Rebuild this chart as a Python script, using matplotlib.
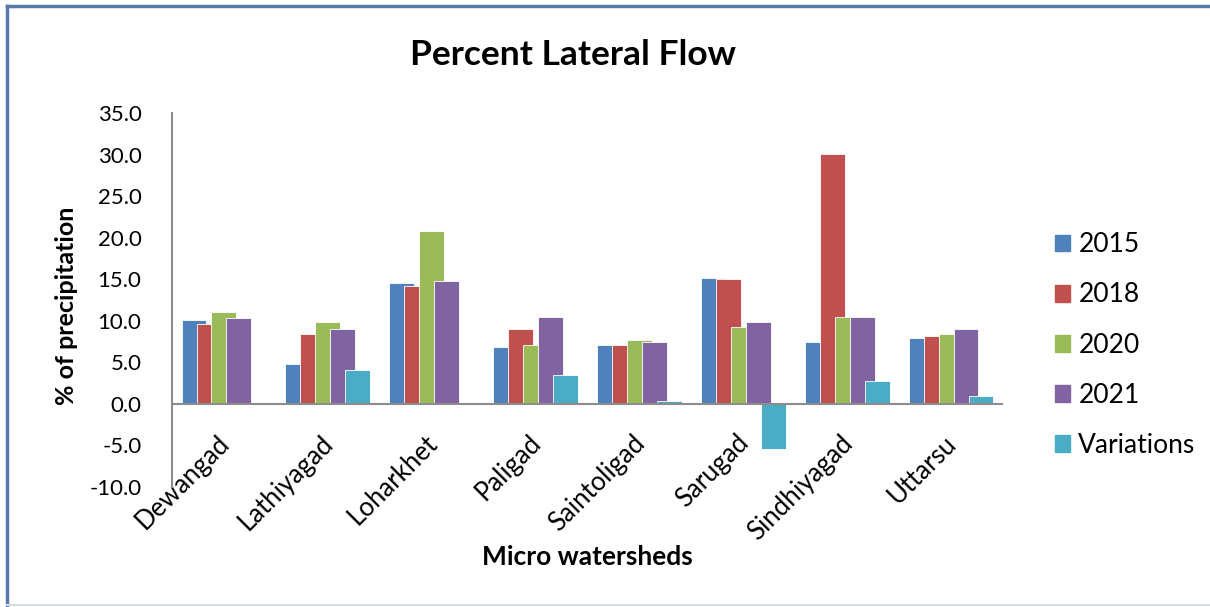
import numpy as np
import matplotlib
matplotlib.use('Agg')
import matplotlib.pyplot as plt
from matplotlib.lines import Line2D

# Data
watersheds = ['Dewangad', 'Lathiyagad', 'Loharkhet', 'Paligad',
              'Saintoligad', 'Sarugad', 'Sindhiyagad', 'Uttarsu']
y2015 = [10.1, 4.8, 14.6, 6.9, 7.1, 15.2, 7.5, 7.9]
y2018 = [9.6, 8.4, 14.2, 9.0, 7.1, 15.0, 30.1, 8.2]
y2020 = [11.0, 9.9, 20.8, 7.1, 7.7, 9.2, 10.5, 8.4]
y2021 = [10.3, 9.0, 14.8, 10.5, 7.5, 9.9, 10.5, 9.0]
variations = [np.nan, 4.1, np.nan, 3.45, 0.3, -5.4, 2.8, 0.9]

series_names = ['2015', '2018', '2020', '2021', 'Variations']
series_vals = [y2015, y2018, y2020, y2021, variations]
colors = ['#4F81BD', '#C0504D', '#9BBB59', '#8064A2', '#4BACC6']

font = 'Lato'
plt.rcParams['font.family'] = [font, 'DejaVu Sans']

fig = plt.figure(figsize=(12.1, 6.07), dpi=100)
ax = fig.add_axes([172/1210, 1-487/607, (1003-172)/1210, (487-113)/607])

x = np.arange(len(watersheds))
step = 0.144
width = 0.24
for k, (name, vals) in enumerate(zip(series_names, series_vals)):
    ax.bar(x - 0.288 + k*step, vals, width, color=colors[k],
           edgecolor='white', linewidth=0.6, label=name, zorder=2+k)

ax.set_xlim(-0.5, 7.5)
ax.set_ylim(-10, 35)
ax.set_yticks(np.arange(-10, 35.1, 5))
ax.set_yticklabels(['%.1f' % v for v in np.arange(-10, 35.1, 5)], fontsize=16)
ax.tick_params(axis='y', length=0, pad=22)
ax.set_xticks([])
ax.axhline(0, color='#8c8c8c', lw=1.5, zorder=10)
for s in ['top', 'right', 'bottom']:
    ax.spines[s].set_visible(False)
ax.spines['left'].set_color('#8c8c8c')
ax.spines['left'].set_linewidth(1.5)

# rotated category labels hanging below the zero line
for i, name in enumerate(watersheds):
    ax.annotate(name, xy=(i, 0), xycoords='data', xytext=(-5, -19),
                textcoords='offset points', rotation=45, fontsize=18.5,
                ha='right', va='top', rotation_mode='anchor', zorder=1)

fig.text(573/1210, 1-55/607, 'Percent Lateral Flow', fontsize=25.5,
         fontweight='bold', ha='center', va='center')
fig.text(66/1210, 1-306/607, '% of precipitation', fontsize=18,
         fontweight='bold', rotation=90, ha='center', va='center')
fig.text(587/1210, 1-557/607, 'Micro watersheds', fontsize=19,
         fontweight='bold', ha='center', va='center')

handles = [plt.Rectangle((0, 0), 1, 1, color=c) for c in colors]
fig.legend(handles, series_names, loc='center left',
           bbox_to_anchor=(1044/1210, 1-345/607), frameon=False,
           fontsize=19, handlelength=0.6, handleheight=0.6,
           handletextpad=0.3, labelspacing=0.95, borderaxespad=0)

# chart area frame
fig.add_artist(Line2D([7/1210, 1], [1-6/607, 1-6/607], color='#5b79a6', lw=2.5))
fig.add_artist(Line2D([7/1210, 7/1210], [1-6/607, 1-605/607], color='#5b79a6', lw=2.5))
fig.add_artist(Line2D([7/1210, 1], [1-605/607, 1-605/607], color='#d5dde5', lw=1.5))

fig.savefig('out.png', dpi=100)
